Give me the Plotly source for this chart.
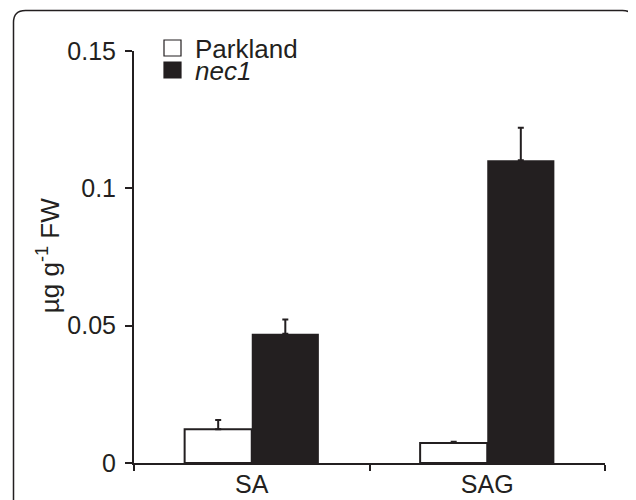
import plotly.graph_objects as go

categories = ["SA", "SAG"]
series_names = ["Parkland", "nec1"]
parkland_vals = [0.0123, 0.0073]
parkland_err = [0.0034, 0.0004]
nec1_vals = [0.0471, 0.1102]
nec1_err = [0.0051, 0.0119]
y_tickvals = [0, 0.05, 0.1, 0.15]
y_ticktext = ["0", "0.05", "0.1", "0.15"]

INK = "#231f20"
FONT = "Liberation Sans, Arial, sans-serif"

OFF = 8  # page body margin
W, H = 636, 500
# plot area in screen pixels: x 134..605, y 50.8..462.7
L = 134 - OFF
R = W - (605 - OFF)
T = 51 - OFF
B = H - (462.7 - OFF)
pw, ph = W - L - R, H - T - B

def px(x):
    return (x - OFF - L) / pw

def py(y):
    return (H - B - (y - OFF)) / ph

fig = go.Figure()
fig.add_trace(go.Bar(
    x=categories, y=parkland_vals, name=series_names[0],
    marker=dict(color="white", line=dict(color=INK, width=2)),
    error_y=dict(type="data", symmetric=False, array=parkland_err,
                 arrayminus=[0] * len(parkland_err), color=INK, thickness=2, width=3),
    showlegend=False,
))
fig.add_trace(go.Bar(
    x=categories, y=nec1_vals, name=series_names[1],
    marker=dict(color=INK, line=dict(color=INK, width=0)),
    error_y=dict(type="data", symmetric=False, array=nec1_err,
                 arrayminus=[0] * len(nec1_err), color=INK, thickness=2, width=3),
    showlegend=False,
))

# rounded border frame (screen pixel coords converted to paper)
x0, x1, y0, y1, r = 13.5, 634.5, 10.5, 540, 12
path = (f"M {px(x0)},{py(y1)} L {px(x0)},{py(y0 + r)} "
        f"Q {px(x0)},{py(y0)} {px(x0 + r)},{py(y0)} "
        f"L {px(x1 - r)},{py(y0)} Q {px(x1)},{py(y0)} {px(x1)},{py(y0 + r)} "
        f"L {px(x1)},{py(y1)}")
shapes = [dict(type="path", xref="paper", yref="paper", path=path,
               line=dict(color=INK, width=1.5), layer="below")]

# legend drawn manually
legend_fills = ["white", INK]
legend_labels = [series_names[0], "<i>" + series_names[1] + "</i>"]
for i in range(2):
    top = 40 + 22 * i
    shapes.append(dict(type="rect", xref="paper", yref="paper",
                       x0=px(164), x1=px(181), y0=py(top + 16), y1=py(top),
                       fillcolor=legend_fills[i], line=dict(color=INK, width=1.2)))
annotations = []
for i in range(2):
    cy = 49 + 22 * i
    annotations.append(dict(x=px(193), y=py(cy), xref="paper", yref="paper",
                            text=legend_labels[i], showarrow=False,
                            xanchor="left", yanchor="middle", height=20,
                            font=dict(family=FONT, size=26, color=INK)))

annotations.append(dict(x=px(48), y=py(256), xref="paper", yref="paper",
                        text="µg g<sup>-1</sup> FW", textangle=-90, showarrow=False,
                        xanchor="center", yanchor="middle",
                        font=dict(family=FONT, size=26, color=INK)))

fig.update_layout(
    width=W, height=H,
    margin=dict(l=L, r=R, t=T, b=B, autoexpand=False),
    paper_bgcolor="white", plot_bgcolor="white",
    barmode="group", bargap=0.43, bargroupgap=0,
    font=dict(family=FONT, size=26, color=INK),
    shapes=shapes, annotations=annotations,
    showlegend=False,
)
fig.update_xaxes(
    range=[-0.5, 1.5], showline=True, linecolor=INK, linewidth=2,
    ticks="outside", tickson="boundaries", ticklen=6, tickwidth=2, tickcolor=INK,
    showgrid=False, zeroline=False, tickfont=dict(size=25, color=INK),
    ticklabelstandoff=-2, automargin=False,
)
fig.update_yaxes(
    range=[0, 0.15], tickvals=y_tickvals, ticktext=y_ticktext,
    showline=True, linecolor=INK, linewidth=2,
    ticks="outside", ticklen=7, tickwidth=2, tickcolor=INK,
    showgrid=False, zeroline=False, tickfont=dict(size=25, color=INK),
    ticklabelstandoff=4, automargin=False,
)

fig.write_html("out.html")
